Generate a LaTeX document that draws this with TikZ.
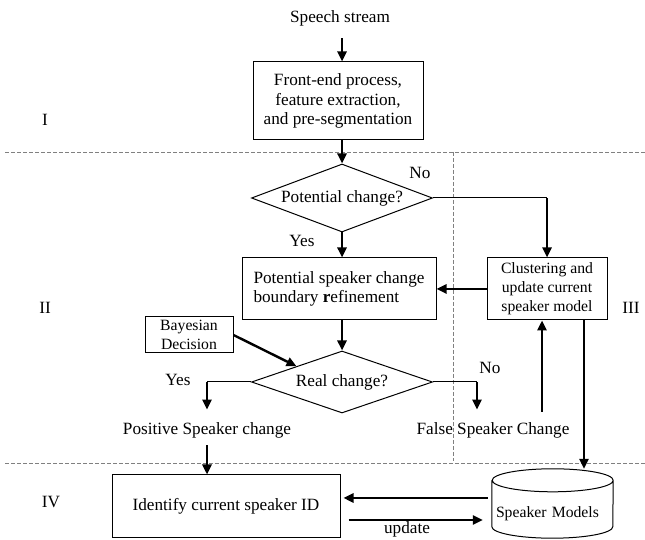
\documentclass[tikz,border=0pt]{standalone}
\usepackage{fontspec}
\setmainfont{Liberation Serif}
\usetikzlibrary{shapes.geometric,arrows.meta}
\begin{document}
\begin{tikzpicture}
	[x=1pt,y=1pt,
	font=\fontsize{17.2}{19.5}\selectfont,
	smalltext/.style={font=\fontsize{15.7}{19}\selectfont},
	procbox/.style={rectangle,draw,line width=1pt,align=center,inner sep=1pt},
	decision/.style={diamond,draw,line width=1pt,aspect=3,inner sep=0pt,minimum width=181pt},
	flow/.style={line width=2.4pt,-{Triangle[length=10pt,width=9pt]}},
	plain/.style={line width=1pt},
	zone/.style={gray,line width=0.6pt,dash pattern=on 4pt off 2pt}]
	\useasboundingbox (0,0) rectangle (645,540);
	% zones
	\draw[zone] (5,388) -- (645,388);
	\draw[zone] (5,77) -- (645,77);
	\draw[zone] (453,388) -- (453,79);
	\foreach \lab/\xpos/\ypos in {I/45/420,II/45/232,III/631/232,IV/51/38}
	{
		\node (zone\lab) at (\xpos,\ypos) {\lab};
	}
	% nodes
	\node (speech) at (340,522) {Speech stream};
	\node[procbox,minimum width=170pt,minimum height=78pt] (front) at (338,439)
		{Front-end process,\\feature extraction,\\and pre-segmentation};
	\node[decision,minimum height=68pt] (pot) at (342,342) {Potential change?};
	\node (no1) at (420,367) {No};
	\node (yes1) at (302,299) {Yes};
	\node[procbox,minimum width=194pt,minimum height=62pt,align=left] (refine) at (339,251)
		{Potential speaker change\\boundary \textbf{r}efinement};
	\node[procbox,smalltext,minimum width=120pt,minimum height=62pt] (cluster) at (547,251)
		{Clustering and\\update current\\speaker model};
	\node[procbox,smalltext,minimum width=88pt,minimum height=36pt] (bayes) at (189,205) {Bayesian\\Decision};
	\node[decision,minimum height=62pt] (real) at (342,158) {Real change?};
	\node (yes2) at (178,160) {Yes};
	\node (no2) at (490,172) {No};
	\node (positive) at (207,110) {Positive Speaker change};
	\node (false) at (493,110) {False Speaker Change};
	\node[procbox,minimum width=228pt,minimum height=63pt] (identify) at (226,33.5) {Identify current speaker ID};
	\node[smalltext,minimum width=121pt,minimum height=69pt,inner xsep=4pt,inner ysep=0pt,
		text width=113pt,align=left,text height=33pt,text depth=4pt] (models) at (552.5,36.5) {Speaker Models};
	\node (upd) at (407,11) {update};
	\draw[plain] ([yshift=-11.5pt]models.north west) -- ([yshift=11.5pt]models.south west)
		arc[start angle=180,end angle=360,x radius=60.5pt,y radius=11.5pt]
		-- ([yshift=-11.5pt]models.north east)
		arc[start angle=0,end angle=180,x radius=60.5pt,y radius=11.5pt]
		arc[start angle=180,end angle=360,x radius=60.5pt,y radius=11.5pt];
	% connectors
	\coordinate (yesturn) at (207,158);
	\coordinate (noturn) at (477,158);
	\coordinate (feedback) at (542,128);
	\draw[flow,shorten <=9pt] (speech.south -| pot.north) -- (pot.north |- front.north);
	\draw[flow] (pot.north |- front.south) -- (pot.north);
	\draw[flow] (pot.south) -- (pot.south |- refine.north);
	\draw[plain] (pot.east) -- (pot.east -| cluster.north);
	\draw[flow] (pot.east -| cluster.north) -- (cluster.north);
	\draw[flow] (cluster.west) -- (cluster.west -| refine.east);
	\draw[flow] (real.north |- refine.south) -- (real.north);
	\draw[flow] (bayes.east) -- (real.north west);
	\draw[plain] (real.west) -- (yesturn);
	\draw[flow,shorten >=9pt] (yesturn) -- (yesturn |- positive.north);
	\draw[plain] (real.east) -- (noturn);
	\draw[flow,shorten >=9pt] (noturn) -- (noturn |- false.north);
	\draw[flow,shorten <=4pt] (positive.south) -- (positive.south |- identify.north);
	\draw[flow] (feedback) -- (feedback |- cluster.south);
	\draw[flow] ([xshift=37pt]cluster.south) -- ([xshift=31.5pt]models.north);
	\draw[flow,shorten <=4pt,shorten >=3pt] ([yshift=5.5pt]models.west) -- ([yshift=5.5pt]models.west -| identify.east);
	\draw[flow,shorten <=8pt,shorten >=9pt] ([yshift=-13.5pt]identify.east) -- ([yshift=-13.5pt]identify.east -| models.west);
\end{tikzpicture}
\end{document}
